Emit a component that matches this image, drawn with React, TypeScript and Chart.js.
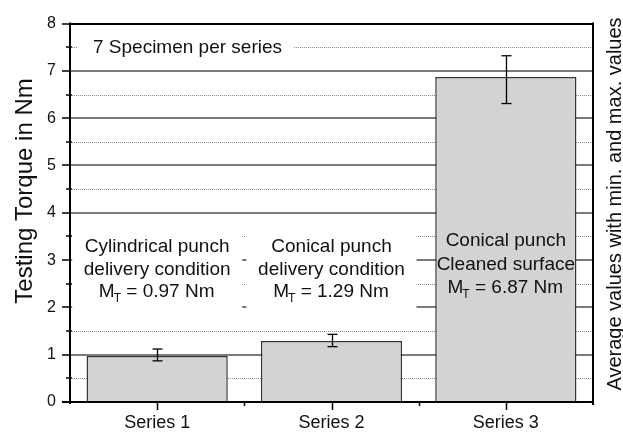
import React, { useEffect, useRef } from "react";
import { Chart, registerables } from "chart.js";

Chart.register(...registerables);

const categories = ["Series 1", "Series 2", "Series 3"];
const meanTorque = [0.97, 1.29, 6.87];
const minTorque = [0.87, 1.17, 6.31];
const maxTorque = [1.12, 1.43, 7.32];
const noteLine1 = ["Cylindrical punch", "Conical punch", "Conical punch"];
const noteLine2 = ["delivery condition", "delivery condition", "Cleaned surface"];
const headerNote = "7 Specimen per series";
const yTitle = "Testing Torque in Nm";
const rightTitle = "Average values with min. and max. values";

const FONT = "'Liberation Sans', Arial, Helvetica, sans-serif";

// baseline positions (in axis units) of the three note lines per series
const noteBaselines = [
  [3.18, 2.68, 2.21],
  [3.18, 2.68, 2.21],
  [3.29, 2.79, 2.31],
];
const whiteBoxSeries = [0, 1];

function hline(ctx: CanvasRenderingContext2D, x1: number, x2: number, y: number) {
  ctx.beginPath();
  ctx.moveTo(x1, y);
  ctx.lineTo(x2, y);
  ctx.stroke();
}
function vline(ctx: CanvasRenderingContext2D, x: number, y1: number, y2: number) {
  ctx.beginPath();
  ctx.moveTo(x, y1);
  ctx.lineTo(x, y2);
  ctx.stroke();
}

const deco = {
  id: "deco",
  beforeDatasetsDraw(chart: any) {
    const { ctx, chartArea: a, scales } = chart;
    const y = scales.y;
    const x = scales.x;
    ctx.save();
    // minor dotted grid
    ctx.setLineDash([1, 1]);
    ctx.strokeStyle = "#8a8a8a";
    ctx.lineWidth = 1;
    for (let v = 0.5; v < 8; v += 1) {
      const py = Math.round(y.getPixelForValue(v)) + 0.5;
      hline(ctx, a.left, a.right, py);
    }
    ctx.setLineDash([]);
    // major solid grid
    ctx.strokeStyle = "#7a7a7a";
    ctx.lineWidth = 2;
    for (let v = 1; v < 8; v += 1) {
      const py = Math.round(y.getPixelForValue(v));
      hline(ctx, a.left, a.right, py);
    }
    // white label boxes
    ctx.fillStyle = "#ffffff";
    ctx.fillRect(a.left + 7, y.getPixelForValue(7.75), 216, 24);
    const top = y.getPixelForValue(3.75);
    const bot = y.getPixelForValue(1.8);
    whiteBoxSeries.forEach((i) => {
      const cx = x.getPixelForValue(i);
      ctx.fillRect(cx - 85, top, 170, bot - top);
    });
    ctx.restore();
  },
  afterDatasetsDraw(chart: any) {
    const { ctx, chartArea: a, scales } = chart;
    const y = scales.y;
    const x = scales.x;
    ctx.save();
    // error bars
    ctx.strokeStyle = "#000";
    ctx.lineWidth = 1.3;
    categories.forEach((_, i) => {
      const cx = Math.round(x.getPixelForValue(i)) + 0.5;
      const yt = y.getPixelForValue(maxTorque[i]);
      const yb = y.getPixelForValue(minTorque[i]);
      vline(ctx, cx, yt, yb);
      hline(ctx, cx - 5, cx + 5, yt);
      hline(ctx, cx - 5, cx + 5, yb);
    });
    // notes
    ctx.fillStyle = "#111";
    ctx.textBaseline = "alphabetic";
    ctx.font = `19px ${FONT}`;
    ctx.textAlign = "left";
    ctx.fillText(headerNote, a.left + 23, y.getPixelForValue(7.37));
    categories.forEach((_, i) => {
      const cx = x.getPixelForValue(i);
      const b = noteBaselines[i];
      ctx.font = `19px ${FONT}`;
      ctx.textAlign = "center";
      ctx.fillText(noteLine1[i], cx, y.getPixelForValue(b[0]));
      ctx.fillText(noteLine2[i], cx, y.getPixelForValue(b[1]));
      const rest = ` = ${meanTorque[i].toFixed(2)} Nm`;
      ctx.textAlign = "left";
      const wM = ctx.measureText("M").width;
      const wR = ctx.measureText(rest).width;
      ctx.font = `12px ${FONT}`;
      const wT = ctx.measureText("T").width;
      const total = wM + wT + wR;
      let sx = cx - total / 2;
      const by = y.getPixelForValue(b[2]);
      ctx.font = `19px ${FONT}`;
      ctx.fillText("M", sx, by);
      sx += wM;
      ctx.font = `12px ${FONT}`;
      ctx.fillText("T", sx - 1, by + 5);
      sx += wT;
      ctx.font = `19px ${FONT}`;
      ctx.fillText(rest, sx - 1, by);
    });
    // frame
    ctx.strokeStyle = "#000";
    ctx.lineWidth = 2;
    hline(ctx, a.left, a.right, Math.round(a.top));
    hline(ctx, a.left - 8, a.right + 1, Math.round(a.bottom));
    vline(ctx, Math.round(a.left), a.top - 1, a.bottom + 2);
    vline(ctx, Math.round(a.right), a.top - 1, a.bottom + 3);
    // y ticks
    ctx.lineWidth = 1.5;
    for (let v = 1; v <= 8; v += 1) {
      const py = Math.round(y.getPixelForValue(v));
      hline(ctx, a.left - 8, a.left, py);
    }
    for (let v = 0.5; v < 8; v += 1) {
      const py = Math.round(y.getPixelForValue(v));
      hline(ctx, a.left - 4, a.left + 2, py);
    }
    // x ticks
    categories.forEach((_, i) => {
      const cx = Math.round(x.getPixelForValue(i)) + 0.5;
      vline(ctx, cx, a.bottom, a.bottom + 8);
      if (i > 0) {
        const bx = Math.round(x.getPixelForValue(i - 0.5)) + 0.5;
        vline(ctx, bx, a.bottom, a.bottom + 4);
      }
    });
    // titles
    ctx.fillStyle = "#111";
    ctx.textAlign = "center";
    ctx.textBaseline = "alphabetic";
    ctx.save();
    ctx.translate(32, 191);
    ctx.rotate(-Math.PI / 2);
    ctx.font = `24px ${FONT}`;
    ctx.fillText(yTitle, 0, 0);
    ctx.restore();
    ctx.save();
    ctx.translate(621, 204);
    ctx.rotate(-Math.PI / 2);
    ctx.font = `20px ${FONT}`;
    ctx.fillText(rightTitle, 0, 0);
    ctx.restore();
    ctx.restore();
  },
};

export default function App() {
  const ref = useRef<HTMLCanvasElement | null>(null);
  useEffect(() => {
    if (!ref.current) return;
    const chart = new Chart(ref.current, {
      type: "bar",
      data: {
        labels: categories,
        datasets: [
          {
            data: meanTorque,
            backgroundColor: "#d3d3d3",
            borderColor: "#333333",
            borderWidth: 1.5,
            categoryPercentage: 0.81,
            barPercentage: 1,
          },
        ],
      },
      options: {
        responsive: false,
        animation: false,
        devicePixelRatio: 1,
        layout: { padding: { top: 17, right: 30, left: 0, bottom: 0 } },
        plugins: { legend: { display: false }, tooltip: { enabled: false } },
        scales: {
          x: {
            grid: { display: false, drawTicks: false },
            border: { display: false },
            ticks: { color: "#111", font: { size: 18, family: FONT }, padding: 10 },
            afterFit: (s: any) => {
              s.height = 33;
            },
          },
          y: {
            min: 0,
            max: 8,
            grid: { display: false, drawTicks: false },
            border: { display: false },
            ticks: { stepSize: 1, color: "#111", font: { size: 16, family: FONT }, padding: 14 },
            afterFit: (s: any) => {
              s.width = 70;
            },
          },
        },
      },
      plugins: [deco],
    });
    return () => chart.destroy();
  }, []);
  return (
    <div style={{ position: "absolute", left: 0, top: 0, width: 623, height: 435, background: "#fff" }}>
      <canvas ref={ref} width={623} height={435} style={{ display: "block" }} />
    </div>
  );
}
